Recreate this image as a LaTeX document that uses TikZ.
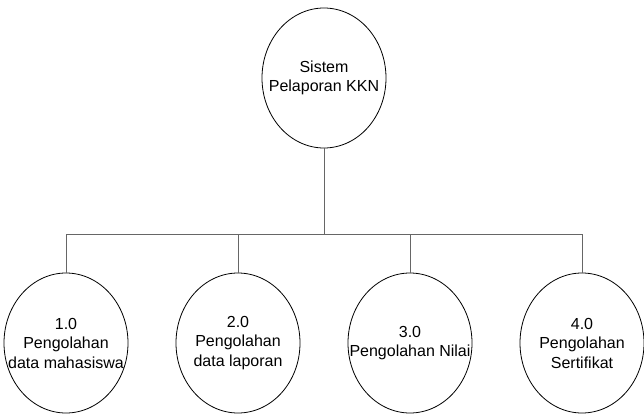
\documentclass[tikz,border=0pt]{standalone}
\usepackage{fontspec}
\setmainfont{Liberation Sans}
\usetikzlibrary{shapes.geometric}

\begin{document}
\begin{tikzpicture}[
     grow = down,
     level distance = 265pt,
     sibling distance = 172pt,
     every node/.style = {ellipse, draw, line width = 0.8pt,
       minimum width = 124pt, minimum height = 140pt,
       inner xsep = -20pt, inner ysep = 0pt,
       align = center, font = \fontsize{16}{19.5}\selectfont},
     edge from parent/.style = {draw, black!60, line width = 0.7pt},
     edge from parent path = {(\tikzparentnode.south) -- ++(0pt,-86pt)
       -| (\tikzchildnode.north)}
    ]
    \useasboundingbox (0pt,0pt) rectangle (644pt,-417pt);

    \node (kkn) at (324pt,-78pt) {Sistem\\Pelaporan KKN}
     child { node (mahasiswa) {1.0\\Pengolahan\\data mahasiswa} }
     child { node (laporan) {2.0\\Pengolahan\\data laporan} }
     child { node (nilai) {3.0\\Pengolahan Nilai} }
     child { node (sertifikat) {4.0\\Pengolahan\\Sertifikat} };

   \end{tikzpicture}
\end{document}
